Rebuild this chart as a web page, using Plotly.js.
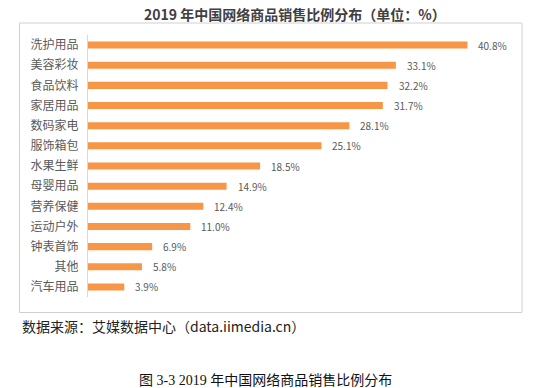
<!DOCTYPE html>
<html>
<head>
<meta charset="utf-8">
<script src="https://cdn.plot.ly/plotly-3.0.1.min.js"></script>
<style>html,body{margin:0;padding:0;background:#fff;}#chart{width:557px;height:388px;}</style>
</head>
<body>
<div id="chart"></div>
<script>
var categories = ["洗护用品","美容彩妆","食品饮料","家居用品","数码家电","服饰箱包","水果生鲜","母婴用品","营养保健","运动户外","钟表首饰","其他","汽车用品"];
var values = [40.8, 33.1, 32.2, 31.7, 28.1, 25.1, 18.5, 14.9, 12.4, 11.0, 6.9, 5.8, 3.9];
var valueLabels = ["40.8%","33.1%","32.2%","31.7%","28.1%","25.1%","18.5%","14.9%","12.4%","11.0%","6.9%","5.8%","3.9%"];
var titleText = "2019 年中国网络商品销售比例分布（单位：%）";
var sourceText = "数据来源：艾媒数据中心（data.iimedia.cn）";
var captionText = "图 3-3 2019 年中国网络商品销售比例分布";

var FONT = "'Noto Sans CJK SC', 'Noto Sans', sans-serif";

var annotations = [];
for (var i = 0; i < categories.length; i++) {
  annotations.push({
    x: values[i], y: categories[i], xref: 'x', yref: 'y',
    text: valueLabels[i], showarrow: false, xanchor: 'left', yanchor: 'middle',
    xshift: 9, font: {family: FONT, size: 10, color: '#595959'}
  });
}
annotations.push({
  x: 0.4859, y: 1.0802, xref: 'paper', yref: 'paper', text: titleText,
  showarrow: false, xanchor: 'center', yanchor: 'middle',
  font: {family: FONT, size: 14, color: '#404040', weight: 600}
});
annotations.push({
  x: -0.1596, y: -0.1107, xref: 'paper', yref: 'paper', text: sourceText,
  showarrow: false, xanchor: 'left', yanchor: 'middle',
  font: {family: FONT, size: 14, color: '#222222'}
});
annotations.push({
  x: 0.4155, y: -0.3206, xref: 'paper', yref: 'paper', text: captionText,
  showarrow: false, xanchor: 'center', yanchor: 'middle',
  font: {family: "'Liberation Serif', 'Noto Sans CJK SC', serif", size: 14, color: '#111111'}
});

var trace = {
  type: 'bar', orientation: 'h',
  x: values, y: categories,
  marker: {color: '#F79646'},
  hoverinfo: 'none'
};

var layout = {
  width: 557, height: 388,
  margin: {l: 88, r: 43, t: 35, b: 91, pad: 0},
  paper_bgcolor: '#ffffff', plot_bgcolor: 'rgba(0,0,0,0)',
  showlegend: false,
  bargap: 0.65,
  xaxis: {range: [0, 45.8], showgrid: false, zeroline: false, showticklabels: false, showline: false, fixedrange: true},
  yaxis: {
    type: 'category', autorange: 'reversed', showgrid: false, zeroline: false,
    showline: true, linecolor: '#d9d9d9', linewidth: 1,
    ticks: '', ticklabelstandoff: 6,
    tickfont: {family: FONT, size: 12, color: '#595959'},
    fixedrange: true
  },
  shapes: [{
    type: 'rect', xref: 'paper', yref: 'paper',
    x0: -0.1608, x1: 1.0188, y0: -0.0592, y1: 1.0458,
    line: {color: '#d0d0d0', width: 1}, fillcolor: 'rgba(0,0,0,0)', layer: 'above'
  }],
  annotations: annotations
};

Plotly.newPlot('chart', [trace], layout, {displayModeBar: false, staticPlot: true});
</script>
</body>
</html>
